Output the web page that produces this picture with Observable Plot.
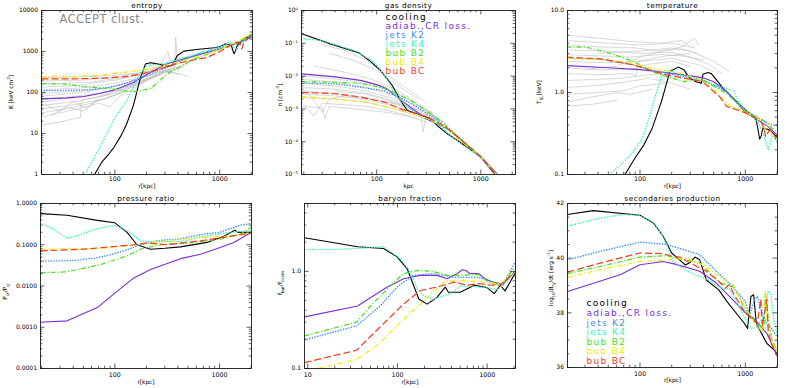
<!DOCTYPE html>
<html><head><meta charset="utf-8">
<script src="https://cdn.jsdelivr.net/npm/d3@7"></script>
<script src="https://cdn.jsdelivr.net/npm/@observablehq/plot@0.6"></script>
<style>
html,body{margin:0;padding:0;background:#fff;}
#wrap{position:relative;width:789px;height:388px;overflow:hidden;font-family:"DejaVu Sans",sans-serif;}
.panel{position:absolute;}
.panel svg{overflow:visible;}
.ylab{position:absolute;transform:translate(-50%,-50%) rotate(-90deg);white-space:nowrap;font-size:5.8px;line-height:1;color:#000;}
.ylab sub,.ylab sup{font-size:4.2px;}
</style></head><body><div id="wrap"></div>
<script>
// ---------- series definitions ----------
const seriesKeys   = ["cooling","adiab","K2","K4","B2","B4","BC"];
const seriesLabels = ["cooling","adiab.,CR loss.","jets K2","jets K4","bub B2","bub B4","bub BC"];
const seriesColors = ["#000000","#7b2fd6","#3d8ef2","#3cf0c4","#44e01a","#f0ec00","#f23c1e"];

// ---------- entropy K [keV cm^2] vs r [kpc] ----------
const entropy = {
  cooling:[[64,1],[75,2],[88,3.2],[98,4.6],[115,9],[129,16.6],[150,48],[176,237],[196,500],[219,530],[254,500],[316,440],[352,455],[394,800],[455,1020],[600,1120],[882,1230],[1000,1300],[1140,1540],[1290,1400],[1340,1000],[1370,877],[1410,1050],[1470,1400],[1710,2040],[2050,2600]],
  adiab:[[20,70],[35,74],[51,80],[73,96],[100,116],[152,178],[219,313],[316,500],[491,700],[1000,1150],[1586,1690],[2050,2300]],
  K2:[[20,112],[35,112],[60,118],[90,135],[122,162],[176,230],[250,330],[316,420],[400,560],[600,830],[1000,1220],[1500,1700],[2050,2400]],
  K4:[[52,1],[73,5],[101,25],[128,60],[150,130],[176,300],[200,450],[240,480],[300,520],[400,640],[600,880],[1000,1300],[1250,1700],[1350,1300],[1450,1100],[1550,1450],[1700,1900],[2050,2500]],
  B2:[[20,165],[35,160],[50,140],[63,133],[90,125],[122,110],[160,105],[220,125],[316,285],[530,600],[1000,1150],[1500,1650],[2050,2700]],
  B4:[[20,245],[50,250],[80,270],[105,300],[150,330],[219,380],[316,470],[500,650],[1000,1100],[1500,1800],[2050,2900]],
  BC:[[20,215],[40,215],[80,225],[120,240],[180,280],[254,355],[400,520],[760,720],[1000,1000],[1450,1700],[1560,1600],[1620,1150],[1700,1650],[2050,2800]]
};
const entropyAccept = [
  [[20,16],[30,19],[47,25],[48,63],[70,80],[100,110],[160,170],[250,260]],
  [[20,25],[30,32],[45,40],[70,55],[90,45],[110,80],[150,120],[200,200],[300,330],[400,280]],
  [[20,32],[35,40],[60,55],[100,85],[160,150],[250,260],[350,400]],
  [[20,40],[40,50],[80,70],[130,120],[200,190],[300,300],[450,420]],
  [[20,48],[45,62],[90,90],[150,150],[260,270],[380,420],[420,300]],
  [[20,58],[50,80],[100,115],[180,190],[300,330],[500,500]],
  [[20,68],[40,80],[80,100],[130,140],[220,240],[370,380],[380,2200],[395,600],[420,900],[500,500]],
  [[20,82],[50,100],[100,140],[170,210],[280,320],[350,340]],
  [[20,95],[40,105],[80,125],[140,180],[230,280],[330,380]],
  [[20,115],[50,130],[100,170],[180,240],[300,350],[500,250]],
  [[20,135],[45,150],[100,200],[160,260],[250,340],[370,450]],
  [[20,160],[60,180],[120,230],[200,310],[280,380]],
  [[20,190],[50,200],[100,240],[170,300],[260,400],[320,1000],[340,500]],
  [[20,230],[50,240],[90,260],[150,290],[220,330]],
  [[22,50],[30,35],[40,60],[55,40],[70,75],[110,110],[160,160]],
  [[25,28],[35,45],[50,35],[65,60],[85,75],[120,100]]
];

// ---------- gas density n [cm^-3] ----------
const density = {
  cooling:[[19,0.2],[20,0.186],[36,0.096],[67.6,0.051],[85,0.03],[109,0.0148],[141,0.0052],[170,0.0018],[197,0.00089],[246,0.00071],[330,0.0005],[397,0.00028],[478,0.000174],[744,6.8e-5],[1000,3.4e-5],[1350,1.05e-5],[1450,8e-6]],
  adiab:[[19,0.0117],[40,0.0095],[70,0.0074],[100,0.0055],[126,0.0041],[160,0.0022],[212,0.0011],[300,0.0005],[514,0.00022],[800,6.5e-5],[1000,3.5e-5],[1450,1e-5],[1550,8e-6]],
  K2:[[19,0.0062],[40,0.0058],[56,0.0051],[117,0.0036],[170,0.0022],[250,0.0011],[400,0.0004],[700,9e-5],[1000,3.2e-5],[1420,1e-5],[1500,8e-6]],
  K4:[[19,0.14],[30,0.12],[60,0.06],[90,0.03],[110,0.015],[131,0.0065],[147,0.0029],[180,0.0016],[220,0.0009],[280,0.00055],[350,0.00045],[450,0.00022],[700,7e-5],[1000,3.5e-5],[1400,1e-5],[1500,8e-6]],
  B2:[[19,0.0068],[40,0.0065],[70,0.006],[100,0.0048],[136,0.0036],[212,0.0018],[300,0.0009],[443,0.00035],[700,9e-5],[1000,3.6e-5],[1420,1e-5],[1500,8e-6]],
  B4:[[19,0.0024],[40,0.002],[81,0.0016],[120,0.0012],[170,0.0009],[300,0.00052],[450,0.00028],[650,0.0001],[1000,3.5e-5],[1400,1e-5],[1500,8e-6]],
  BC:[[19,0.0032],[40,0.0029],[70,0.0023],[120,0.0016],[170,0.001],[307,0.00056],[450,0.0003],[650,0.00011],[1000,3.5e-5],[1400,1e-5],[1500,8e-6]]
};
const densityAccept = [
  [[30,0.09],[50,0.06],[80,0.03],[120,0.012],[200,0.004],[300,0.0015]],
  [[35,0.05],[60,0.03],[100,0.015],[150,0.006],[250,0.002]],
  [[25,0.02],[50,0.013],[90,0.008],[150,0.004],[250,0.0015],[400,0.0005]],
  [[19,0.008],[40,0.0065],[80,0.0045],[150,0.0025],[250,0.0012],[400,0.00045]],
  [[19,0.006],[40,0.005],[80,0.0035],[150,0.002],[250,0.001],[450,0.0004]],
  [[19,0.0045],[40,0.004],[80,0.003],[150,0.0017],[250,0.0009],[400,0.0004]],
  [[19,0.0035],[40,0.003],[80,0.0022],[150,0.0014],[250,0.0008],[350,0.00045]],
  [[19,0.0028],[40,0.0025],[80,0.0019],[150,0.0012],[250,0.0007],[450,0.00028]],
  [[19,0.0022],[40,0.002],[80,0.0016],[150,0.001],[250,0.0006],[350,0.0004]],
  [[19,0.0016],[25,0.0006],[30,0.0015],[40,0.0014],[80,0.0012],[150,0.0008],[250,0.0005]],
  [[19,0.0012],[30,0.0011],[32,0.0005],[35,0.0012],[60,0.001],[120,0.0008],[200,0.0006],[300,0.0004]],
  [[22,0.003],[30,0.0008],[35,0.002],[50,0.0025],[80,0.002],[150,0.0015],[260,0.0009],[280,0.0002],[300,0.0007],[350,0.0004]],
  [[19,0.01],[30,0.009],[60,0.007],[100,0.005],[180,0.0025],[300,0.0009],[500,0.0003]],
  [[40,0.0035],[80,0.0028],[130,0.0018],[200,0.0011],[280,0.0006],[330,0.0009],[380,0.0003]]
];

// ---------- temperature T [keV] ----------
const temperature = {
  cooling:[[72,0.1],[90,0.16],[109,0.23],[131,0.37],[160,0.78],[192,1.8],[230,2.04],[260,1.9],[297,1.5],[340,1.35],[382,1.3],[397,1.67],[440,1.75],[476,1.7],[614,1.13],[884,0.71],[1200,0.5],[1270,0.46],[1330,0.33],[1370,0.27],[1420,0.3],[1470,0.37],[1700,0.35],[2020,0.28]],
  adiab:[[20,2.13],[50,2.0],[100,1.9],[144,1.8],[250,1.65],[392,1.52],[500,1.35],[661,1.03],[1022,0.56],[1580,0.4],[2020,0.3]],
  K2:[[20,2.62],[42,2.55],[87,2.17],[124,1.89],[178,1.72],[392,1.43],[661,1.03],[1000,0.6],[1500,0.45],[1800,0.4],[2020,0.4]],
  K4:[[51,0.1],[65,0.13],[80,0.17],[96,0.23],[108,0.3],[124,0.53],[144,1.03],[166,1.8],[190,1.9],[230,1.7],[300,1.5],[400,1.4],[550,1.2],[700,1.1],[780,1.05],[850,0.8],[1000,0.6],[1300,0.45],[1500,0.3],[1650,0.2],[1800,0.3],[2020,0.25]],
  B2:[[20,3.57],[31,3.57],[52,3.02],[87,2.39],[131,1.8],[178,1.57],[257,1.36],[392,1.43],[661,0.98],[1000,0.6],[1500,0.45],[2020,0.32]],
  B4:[[20,2.6],[40,2.55],[80,2.3],[150,1.9],[250,1.7],[392,1.4],[500,1.1],[600,0.85],[700,0.7],[1000,0.58],[1400,0.45],[1550,0.35],[1650,0.42],[1800,0.3],[2020,0.28]],
  BC:[[20,2.7],[42,2.57],[87,2.17],[178,1.64],[392,1.36],[570,0.89],[661,0.68],[1022,0.56],[1300,0.47],[1400,0.44],[1490,0.38],[1560,0.29],[1700,0.35],[1850,0.33],[2020,0.24]]
};
const temperatureAccept = [
  [[20,5.0],[40,4.6],[80,4.2],[150,4.0],[250,4.3],[300,3.7]],
  [[20,4.3],[50,4.0],[100,3.8],[200,4.0],[330,3.5]],
  [[20,3.8],[40,3.6],[90,3.5],[150,3.2],[250,3.4],[350,3.0]],
  [[20,3.3],[50,3.2],[100,3.0],[200,3.1],[300,2.7],[450,2.2],[600,1.7]],
  [[20,2.9],[40,2.8],[80,2.7],[150,2.9],[250,2.8],[400,2.5]],
  [[20,2.4],[50,2.3],[100,2.4],[200,2.6],[350,2.2],[500,1.8]],
  [[20,2.0],[40,1.9],[80,1.9],[120,2.2],[200,2.4],[300,2.1]],
  [[20,1.7],[40,1.65],[80,1.7],[92,1.6],[96,2.4],[180,2.8],[300,3.0]],
  [[20,1.4],[40,1.45],[70,1.5],[100,1.6],[150,1.7],[200,1.5]],
  [[20,1.15],[35,1.2],[60,1.3],[90,1.4],[120,1.5],[200,1.3],[300,1.1]],
  [[20,0.95],[40,1.0],[70,1.05],[100,1.2],[180,1.3]],
  [[20,0.75],[30,0.85],[60,1.0],[80,0.95],[130,1.1]],
  [[20,0.68],[35,0.72],[60,0.8]],
  [[40,3.0],[100,3.2],[200,3.5],[300,3.2],[500,2.4],[700,1.8]],
  [[30,1.9],[60,2.1],[100,2.7],[160,3.2],[250,3.6],[330,4.6],[360,3.8]]
];

// ---------- pressure ratio Pcr/Pg ----------
const pressure = {
  cooling:[[19.5,0.568],[35,0.517],[68,0.39],[100,0.34],[131,0.2],[163,0.1],[219,0.078],[300,0.082],[424,0.089],[760,0.114],[1100,0.16],[1290,0.2],[1400,0.225],[1500,0.2],[2020,0.2]],
  adiab:[[19.5,0.00132],[35,0.00143],[68,0.003],[100,0.0067],[152,0.0157],[219,0.025],[424,0.046],[658,0.059],[955,0.081],[1370,0.114],[2020,0.2]],
  K2:[[19.5,0.04],[38,0.041],[63,0.047],[85,0.055],[130,0.075],[176,0.1],[254,0.125],[424,0.14],[700,0.18],[1000,0.2],[1600,0.3],[2020,0.33]],
  K4:[[19.5,0.34],[25,0.25],[35,0.143],[45,0.17],[59,0.22],[80,0.27],[100,0.29],[131,0.22],[176,0.125],[219,0.118],[424,0.12],[800,0.17],[1300,0.2],[2020,0.22]],
  B2:[[19.5,0.021],[35,0.022],[73,0.033],[131,0.054],[176,0.078],[273,0.1],[491,0.11],[1050,0.138],[1580,0.18],[2020,0.27]],
  B4:[[19.5,0.078],[73,0.081],[152,0.1],[316,0.125],[658,0.15],[1370,0.165],[2020,0.2]],
  BC:[[19.5,0.071],[51,0.078],[152,0.1],[204,0.11],[316,0.1],[658,0.125],[1370,0.166],[2020,0.19]]
};

// ---------- baryon fraction fbar/fcosm ----------
const baryon = {
  cooling:[[9.2,2.22],[35.9,1.79],[70,1.72],[99,1.41],[128,1.07],[173,0.52],[214,0.46],[276,0.54],[341,0.69],[370,0.61],[500,0.61],[720,0.72],[1000,0.68],[1200,0.59],[1400,0.72],[1580,0.63],[2050,0.95]],
  adiab:[[9.2,0.34],[35.9,0.44],[77,0.69],[117,0.84],[180,0.91],[276,0.91],[358,0.84],[465,0.95],[530,1.04],[580,1.02],[640,0.95],[800,0.95],[950,0.84],[1160,0.77],[1500,0.74],[2050,1.0]],
  K2:[[9.2,0.197],[35,0.275],[64,0.44],[99,0.69],[150,0.91],[250,0.95],[430,0.87],[800,0.87],[1200,0.77],[1500,0.72],[2050,1.25]],
  K4:[[9.2,1.68],[21,1.68],[70,1.79],[108,1.35],[140,0.98],[166,0.66],[197,0.56],[250,0.52],[330,0.56],[400,0.6],[500,0.7],[700,0.7],[1000,0.68],[1300,0.65],[1500,0.72],[1800,0.85],[2050,1.0]],
  B2:[[9.2,0.217],[35,0.3],[50,0.44],[77,0.66],[117,0.95],[166,1.02],[250,1.0],[358,0.91],[500,0.91],[800,0.93],[1110,0.74],[1450,0.74],[2050,1.1]],
  B4:[[10,0.095],[35,0.124],[58,0.17],[89,0.25],[137,0.37],[180,0.46],[255,0.63],[350,0.8],[600,0.8],[1000,0.77],[1400,0.74],[2050,1.0]],
  BC:[[9.2,0.115],[35,0.154],[58,0.245],[89,0.36],[117,0.46],[180,0.635],[276,0.69],[427,0.775],[600,0.72],[800,0.75],[1100,0.72],[1400,0.72],[2050,1.0]]
};

// ---------- secondaries production log10 dL/dt [erg/s] ----------
const secondaries = {
  cooling:[[20.5,41.6],[36,41.74],[100,41.57],[134,41.29],[166,40.8],[200,40.19],[239,39.93],[270,39.75],[300,39.85],[332,40.04],[369,39.94],[426,39.2],[560,38.84],[670,38.41],[978,37.62],[1050,37.43],[1130,38.6],[1200,38.66],[1270,37.62],[1600,36.88],[2020,36.52]],
  adiab:[[20.5,38.78],[64.7,39.39],[100,39.76],[166,39.88],[206,39.8],[257,39.7],[369,39.52],[530,39.09],[762,38.47],[1000,38.0],[1200,37.8],[1600,37.25],[2020,36.4]],
  K2:[[20.5,39.94],[42,40.25],[100,40.59],[179,40.5],[369,40.13],[530,39.52],[762,38.96],[1000,38.4],[1100,37.9],[1200,38.4],[1300,38.6],[1450,38.0],[1600,37.6],[1800,37.4],[2020,37.1]],
  K4:[[20.5,41.17],[42,41.47],[70,41.6],[100,41.57],[134,41.29],[166,40.8],[206,39.9],[260,39.6],[330,39.4],[450,39.2],[530,39.0],[650,38.85],[700,38.9],[800,38.5],[1000,37.8],[1150,37.4],[1300,37.5],[1500,37.9],[1650,38.8],[1750,38.7],[1850,37.8],[2020,37.2]],
  B2:[[20.5,39.43],[42,39.7],[100,40.04],[179,40.09],[369,39.82],[560,39.15],[705,38.96],[780,38.96],[1000,38.1],[1300,37.6],[1500,37.4],[1550,38.7],[1650,37.8],[1800,37.0],[2020,36.6]],
  B4:[[20.5,39.3],[42,39.58],[100,39.88],[179,39.94],[276,40.0],[426,39.7],[560,39.33],[762,39.03],[900,38.5],[1200,37.7],[1450,37.3],[1550,38.8],[1620,37.6],[1800,37.0],[2020,36.5]],
  BC:[[20.5,39.49],[42,39.82],[100,40.19],[160,40.17],[200,40.07],[239,40.04],[300,39.82],[426,39.52],[560,39.15],[640,38.9],[705,39.03],[800,38.6],[1000,38.0],[1300,37.6],[1400,38.5],[1450,37.5],[1600,38.5],[1650,37.3],[1800,36.8],[2020,36.4]]
};

// ---------- tick labels ----------
const supDigits = {"-":"⁻","0":"⁰","1":"¹","2":"²","3":"³","4":"⁴","5":"⁵","6":"⁶","7":"⁷","8":"⁸","9":"⁹"};
const xLabelTicksR = [100,1000];
const xLabelTicksB = [10,100,1000];
const entropyTicks = [1,10,100,1000,10000];
const densityTicks = [1e-5,1e-4,1e-3,1e-2,1e-1,1];
const temperatureTicks = [0.1,1,10];
const pressureTicks = [0.0001,0.001,0.01,0.1,1];
const baryonTicks = [0.1,1];
const secondariesTicks = [36,38,40,42];

// ---------- style ----------
const lineStyle = {
  cooling:{w:1.1,dash:null,cap:"butt"},
  adiab:{w:1.1,dash:null,cap:"butt"},
  K2:{w:1.5,dash:"0.1,2.6",cap:"round"},
  K4:{w:1.5,dash:"0.1,2.6",cap:"round"},
  B2:{w:1.2,dash:"5,2,1.2,2",cap:"butt"},
  B4:{w:1.2,dash:"5,2,1.2,2",cap:"butt"},
  BC:{w:1.2,dash:"7,3",cap:"butt"}
};

function logMajor([a,b]){const o=[];for(let k=Math.floor(Math.log10(a));k<=Math.ceil(Math.log10(b));k++){const v=Math.pow(10,k);if(v>=a*0.999&&v<=b*1.001)o.push(v);}return o;}
function logMinor([a,b]){const o=[];for(let k=Math.floor(Math.log10(a));k<=Math.ceil(Math.log10(b));k++)for(let m=2;m<=9;m++){const v=m*Math.pow(10,k);if(v>=a&&v<=b)o.push(v);}return o;}
function linTicks([a,b],s){const o=[];for(let v=a;v<=b+1e-9;v+=s)o.push(+v.toFixed(6));return o;}

const wrap = document.getElementById("wrap");

function panel(o){
  const H=194, iw=o.width-o.ml-o.mr, ih=H-o.mt-o.mb;
  const marks=[];
  (o.gray||[]).forEach(g=>marks.push(Plot.line(g,{x:d=>d[0],y:d=>d[1],stroke:"#bdbdbd",strokeWidth:0.6,clip:true})));
  seriesKeys.forEach((k,i)=>{
    const st=lineStyle[k];
    marks.push(Plot.line(o.series[k],{x:d=>d[0],y:d=>d[1],stroke:seriesColors[i],strokeWidth:st.w,strokeDasharray:st.dash,strokeLinecap:st.cap,clip:true}));
  });
  marks.push(Plot.frame({stroke:"#1a1a1a",strokeWidth:0.9}));
  const xMaj=logMajor(o.xDomain), xMin=logMinor(o.xDomain);
  const yMaj=o.yType==="linear"?linTicks(o.yDomain,2):logMajor(o.yDomain);
  const yMin=o.yType==="linear"?linTicks(o.yDomain,0.5).filter(v=>!yMaj.includes(v)):logMinor(o.yDomain);
  const L=4.5,l=2.3,tk={stroke:"#1a1a1a",strokeWidth:0.7};
  marks.push(Plot.tickX(xMaj,{x:d=>d,insetTop:ih-L,...tk}));
  marks.push(Plot.tickX(xMaj,{x:d=>d,insetBottom:ih-L,...tk}));
  marks.push(Plot.tickX(xMin,{x:d=>d,insetTop:ih-l,...tk}));
  marks.push(Plot.tickX(xMin,{x:d=>d,insetBottom:ih-l,...tk}));
  marks.push(Plot.tickY(yMaj,{y:d=>d,insetRight:iw-L,...tk}));
  marks.push(Plot.tickY(yMaj,{y:d=>d,insetLeft:iw-L,...tk}));
  marks.push(Plot.tickY(yMin,{y:d=>d,insetRight:iw-l,...tk}));
  marks.push(Plot.tickY(yMin,{y:d=>d,insetLeft:iw-l,...tk}));
  marks.push(Plot.axisX({ticks:o.xTicks,tickFormat:d=>String(d),tickSize:0,tickPadding:o.xPad,label:null,fontSize:6.3}));
  marks.push(Plot.axisY({ticks:o.yTicks,tickFormat:o.yFormat,tickSize:0,tickPadding:3.5,label:null,fontSize:6}));
  marks.push(Plot.text([o.title],{text:d=>d,frameAnchor:"top",lineAnchor:"middle",dy:-5,fontSize:7.3}));
  marks.push(Plot.text([o.xLabel],{text:d=>d,frameAnchor:"bottom",lineAnchor:"middle",dy:o.xLabDy,fontSize:5.8}));
  (o.extra||[]).forEach(m=>marks.push(m));
  const svg=Plot.plot({
    width:o.width,height:H,marginTop:o.mt,marginBottom:o.mb,marginLeft:o.ml,marginRight:o.mr,
    x:{type:"log",domain:o.xDomain},
    y:{type:o.yType||"log",domain:o.yDomain},
    style:{fontFamily:"DejaVu Sans, sans-serif",fontSize:"6px",background:"transparent",color:"#000"},
    marks
  });
  svg.querySelectorAll("text").forEach(t=>{
    const s=t.textContent;
    if(seriesLabels.includes(s)) t.style.letterSpacing="1.3px";
    else if(s===o.title) t.style.letterSpacing="0.5px";
    else if(s==="ACCEPT clust.") t.style.letterSpacing="0.4px";
  });
  const d=document.createElement("div");d.className="panel";d.style.left=o.left+"px";d.style.top=o.top+"px";
  d.appendChild(svg);wrap.appendChild(d);
  const yl=document.createElement("div");yl.className="ylab";yl.innerHTML=o.yLabel;
  yl.style.left=o.yLabX+"px";yl.style.top=o.yLabY+"px";wrap.appendChild(yl);
}

function legend(dx,dy0,sp){
  return seriesLabels.map((s,i)=>Plot.text([s],{text:d=>d,frameAnchor:"top-left",lineAnchor:"middle",textAnchor:"start",dx,dy:dy0+i*sp,fill:seriesColors[i],fontSize:9}));
}

const fmtDec = (n)=>d=>d.toFixed(n);
const fmtPow = d=>"10"+String(Math.round(Math.log10(d))).split("").map(c=>supDigits[c]).join("");

panel({left:0,top:0,width:262,mt:10,mb:20,ml:41,mr:10,xDomain:[20,2050],yDomain:[1,10000],
  xTicks:xLabelTicksR,yTicks:entropyTicks,yFormat:d=>String(d),xPad:2.5,xLabDy:12,
  title:"entropy",xLabel:"r[kpc]",series:entropy,gray:entropyAccept,
  yLabel:"K [keV cm<sup>2</sup>]",yLabX:11,yLabY:92,
  extra:[Plot.text(["ACCEPT clust."],{text:d=>d,frameAnchor:"top-left",lineAnchor:"middle",textAnchor:"start",dx:18,dy:9,fill:"#8a8a8a",fontSize:11.5})]});

panel({left:262,top:0,width:262,mt:10,mb:20,ml:39,mr:9,xDomain:[19,2150],yDomain:[1e-5,1],
  xTicks:xLabelTicksR,yTicks:densityTicks,yFormat:fmtPow,xPad:2.5,xLabDy:12,
  title:"gas density",xLabel:"kpc",series:density,gray:densityAccept,
  yLabel:"n [cm<sup>-3</sup>]",yLabX:280,yLabY:95,
  extra:legend(84,7,9)});

panel({left:524,top:0,width:265,mt:10,mb:20,ml:43,mr:12,xDomain:[20.5,2020],yDomain:[0.1,10],
  xTicks:xLabelTicksR,yTicks:temperatureTicks,yFormat:fmtDec(1),xPad:2.5,xLabDy:12,
  title:"temperature",xLabel:"r[kpc]",series:temperature,gray:temperatureAccept,
  yLabel:"T<sub>SL</sub>[keV]",yLabX:541,yLabY:92});

panel({left:0,top:194,width:262,mt:9,mb:20,ml:40,mr:11,xDomain:[19.5,2020],yDomain:[0.0001,1],
  xTicks:xLabelTicksR,yTicks:pressureTicks,yFormat:fmtDec(4),xPad:4,xLabDy:14,
  title:"pressure ratio",xLabel:"r[kpc]",series:pressure,
  yLabel:"P<sub>cr</sub>/P<sub>g</sub>",yLabX:7,yLabY:292});

panel({left:262,top:194,width:262,mt:9,mb:20,ml:42,mr:9,xDomain:[9.2,2070],yDomain:[0.1,5],
  xTicks:xLabelTicksB,yTicks:baryonTicks,yFormat:fmtDec(1),xPad:4,xLabDy:14,
  title:"baryon fraction",xLabel:"r[kpc]",series:baryon,
  yLabel:"f<sub>bar</sub>/f<sub>cosm</sub>",yLabX:282,yLabY:283});

panel({left:524,top:194,width:265,mt:9,mb:21,ml:43,mr:12,xDomain:[20.5,2020],yDomain:[36,42],yType:"linear",
  xTicks:xLabelTicksR,yTicks:secondariesTicks,yFormat:d=>String(d),xPad:4,xLabDy:13,
  title:"secondaries production",xLabel:"r[kpc]",series:secondaries,
  yLabel:"log<sub>10</sub>dL<sub>γ</sub>/dt [erg s<sup>-1</sup>]",yLabX:552,yLabY:278,
  extra:legend(19,100,9.6)});
</script></body></html>
